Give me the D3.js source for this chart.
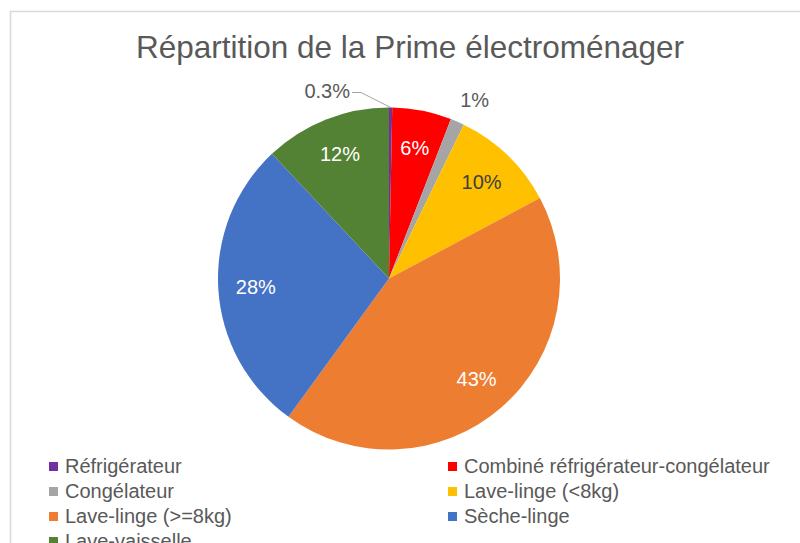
<!DOCTYPE html>
<html>
<head>
<meta charset="utf-8">
<script src="https://cdn.jsdelivr.net/npm/d3@7"></script>
<style>
  body { margin: 0; background: #fff; }
  svg { display: block; font-family: "Liberation Sans", Arial, sans-serif; }
</style>
</head>
<body>
<div class="vis-pie"></div>
<script>
const categories = ["Réfrigérateur", "Combiné réfrigérateur-congélateur", "Congélateur",
    "Lave-linge (<8kg)", "Lave-linge (>=8kg)", "Sèche-linge", "Lave-vaisselle"];
const values = [0.3, 5.6, 1.3, 10.0, 42.8, 28.0, 12.0];
const colors = ["#7030A0", "#FF0000", "#A5A5A5", "#FFC000", "#ED7D31", "#4472C4", "#548235"];
const title = "Répartition de la Prime électroménager";

const width = 800, height = 543;
const cx = 389, cy = 278.5, r = 171;

let data = categories.map((c, i) => ({ name: c, value: values[i], color: colors[i] }));

let svg = d3.select(".vis-pie")
    .append("svg")
    .attr("width", width)
    .attr("height", height);

// chart frame (cut off on the right and bottom)
svg.append("rect")
    .attr("x", 10.5).attr("y", 11.5)
    .attr("width", 900).attr("height", 700)
    .attr("fill", "none")
    .attr("stroke", "#d9d9d9")
    .attr("stroke-width", 1.5);

svg.append("text")
    .attr("x", 410).attr("y", 58)
    .attr("text-anchor", "middle")
    .attr("font-size", 31.5)
    .attr("fill", "#595959")
    .text(title);

let pie = d3.pie().sort(null).value(d => d.value);
let arcs = pie(data);
let arc = d3.arc().innerRadius(0).outerRadius(r);

let g = svg.append("g").attr("transform", "translate(" + cx + "," + cy + ")");

g.selectAll("path.slice")
    .data(arcs)
    .enter()
    .append("path")
    .attr("class", "slice")
    .attr("d", arc)
    .attr("fill", d => d.data.color);

const total = d3.sum(values);
const fmt = v => {
    let p = v / total;
    return p < 0.01 ? d3.format(".1%")(p) : d3.format(".0%")(p);
};

// labels inside big slices
let inner = d3.arc().innerRadius(r * 0.78).outerRadius(r * 0.78);
g.selectAll("text.in")
    .data(arcs.filter(d => d.data.value >= 3))
    .enter()
    .append("text")
    .attr("class", "in")
    .attr("transform", d => "translate(" + inner.centroid(d) + ")")
    .attr("text-anchor", "middle")
    .attr("dy", "0.35em")
    .attr("font-size", 20)
    .attr("fill", d => d.data.name === "Lave-linge (<8kg)" ? "#404040" : "#fff")
    .text(d => fmt(d.data.value));

// small slices: labels outside
let small = arcs.filter(d => d.data.value < 3);
let outer = d3.arc().innerRadius(r * 1.12).outerRadius(r * 1.12);
small.forEach(d => {
    let a = (d.startAngle + d.endAngle) / 2;
    let tip = [Math.sin(a) * r, -Math.cos(a) * r];
    if (d.data.value < 1) {
        let lx = -28, ly = -186;
        g.append("polyline")
            .attr("points", [[lx - 9, ly], [lx, ly], tip].map(p => p.join(",")).join(" "))
            .attr("fill", "none")
            .attr("stroke", "#a6a6a6")
            .attr("stroke-width", 1);
        g.append("text")
            .attr("x", lx - 11).attr("y", ly - 2)
            .attr("text-anchor", "end")
            .attr("dy", "0.35em")
            .attr("font-size", 20)
            .attr("fill", "#595959")
            .text(fmt(d.data.value));
    } else {
        let p = outer.centroid(d);
        g.append("text")
            .attr("x", p[0] + 9).attr("y", p[1] - 3)
            .attr("text-anchor", "middle")
            .attr("dy", "0.35em")
            .attr("font-size", 20)
            .attr("fill", "#595959")
            .text(fmt(d.data.value));
    }
});

// legend, two columns
let legend = svg.append("g");
let items = legend.selectAll("g")
    .data(data)
    .enter()
    .append("g")
    .attr("transform", (d, i) => "translate(" + (i % 2 ? 448 : 49) + "," + (466 + Math.floor(i / 2) * 25) + ")");
items.append("rect")
    .attr("x", 0).attr("y", -4)
    .attr("width", 9).attr("height", 9)
    .attr("fill", d => d.color);
items.append("text")
    .attr("x", 16).attr("dy", "0.35em")
    .attr("font-size", 20)
    .attr("fill", "#595959")
    .text(d => d.name);
</script>
</body>
</html>
